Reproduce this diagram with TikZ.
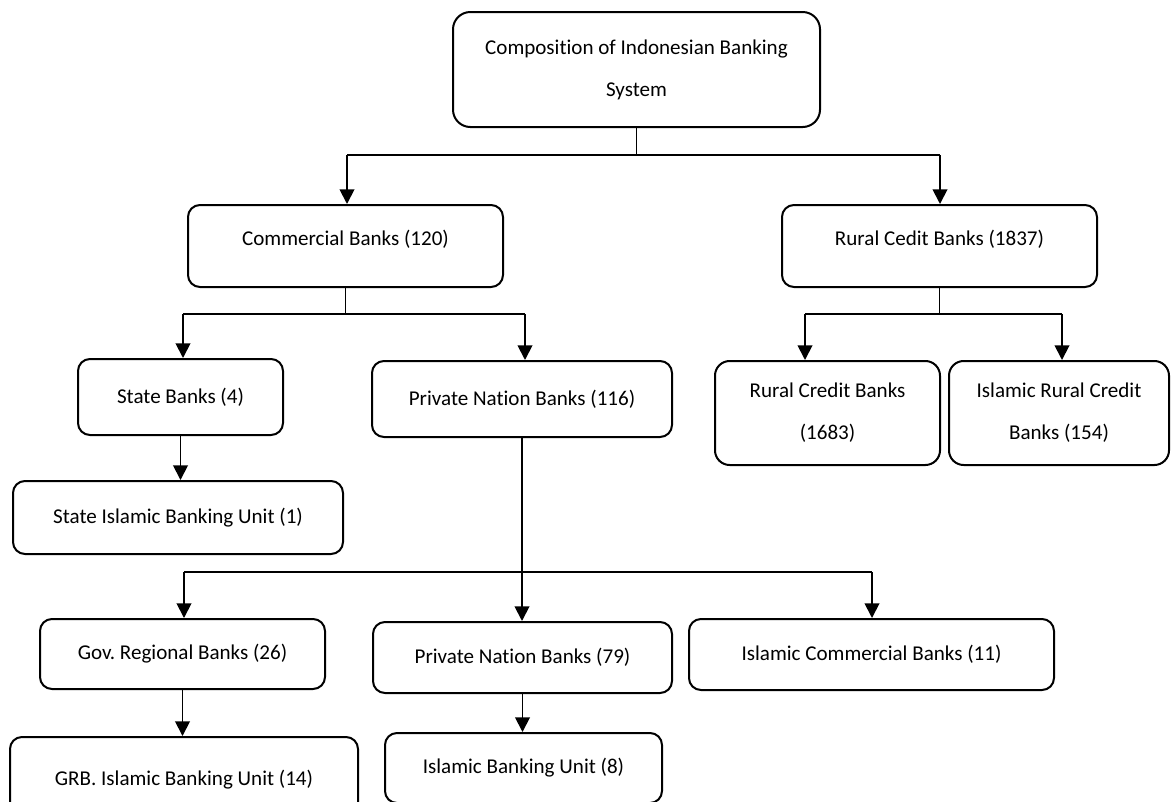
\documentclass[tikz,border=0pt]{standalone}
\usepackage{fontspec}
\setmainfont{Carlito}[Ligatures={NoCommon}]
\usetikzlibrary{arrows.meta}
\frenchspacing
\begin{document}
\begin{tikzpicture}[x=0.75pt,y=-0.75pt,
  box/.style={draw,line width=1.5pt,rounded corners=9pt,inner sep=0pt,
    font=\fontsize{15.8}{19}\selectfont,align=center},
  two/.style={font=\fontsize{15.8}{31.5}\selectfont},
  conn/.style={line width=1.4pt},
  arr/.style={conn,-{Triangle[width=11pt,length=11pt]}},
]
\useasboundingbox (0,0) rectangle (1171,801);
\clip (0,0) rectangle (1171,801);

% boxes
\node[box,two,rounded corners=13pt,minimum width=275.25pt,minimum height=86.25pt] (top) at (636.5,69.5)
  {Composition of Indonesian Banking\\System};
\node[box,minimum width=236.25pt,minimum height=61.5pt,text height=8pt,text depth=8.4pt] (cb) at (345.5,246) {Commercial Banks (120)};
\node[box,minimum width=236.25pt,minimum height=61.5pt,text height=8pt,text depth=8.4pt] (rcb) at (939.5,246) {Rural Cedit Banks (1837)};
\node[box,minimum width=153.75pt,minimum height=57pt] (sb) at (180.5,397) {State Banks (4)};
\node[box,minimum width=225pt,minimum height=57pt] (pnb) at (522,399) {Private Nation Banks (116)};
\node[box,minimum width=247.5pt,minimum height=54.75pt] (sibu) at (178,517.5) {State Islamic Banking Unit (1)};
\node[box,two,rounded corners=11pt,minimum width=168.75pt,minimum height=78pt] (rcb1) at (827.5,413) {Rural Credit Banks\\(1683)};
\node[box,two,rounded corners=11pt,minimum width=165pt,minimum height=78pt] (ircb) at (1059,413) {Islamic Rural Credit\\Banks (154)};
\node[box,minimum width=213.75pt,minimum height=52.5pt] (grb) at (182.5,654) {Gov. Regional Banks (26)};
\node[box,minimum width=224.25pt,minimum height=53.25pt] (pnb2) at (522.5,657.5) {Private Nation Banks (79)};
\node[box,minimum width=273.75pt,minimum height=53.25pt] (icb) at (871.5,654.5) {Islamic Commercial Banks (11)};
\node[box,minimum width=261pt,minimum height=64.5pt] (gibu) at (184,780) {GRB. Islamic Banking Unit (14)};
\node[box,minimum width=207.75pt,minimum height=52.5pt] (ibu) at (523.5,768) {Islamic Banking Unit (8)};

% level 1
\coordinate (h1L) at (347,155);
\coordinate (h1R) at (940,155);
\draw[conn] (top.south) -- (top.south |- h1L);
\draw[conn] (h1L) -- (h1R);
\draw[arr] (h1L) -- (h1L |- cb.north);
\draw[arr] (h1R) -- (h1R |- rcb.north);

% commercial banks
\coordinate (h2L) at (183,314);
\coordinate (h2R) at (525,314);
\draw[conn] (cb.south) -- (cb.south |- h2L);
\draw[conn] (h2L) -- (h2R);
\draw[arr] (h2L) -- (h2L |- sb.north);
\draw[arr] (h2R) -- (h2R |- pnb.north);

% rural banks
\coordinate (h3L) at (805,314);
\coordinate (h3R) at (1062,314);
\draw[conn] (rcb.south) -- (rcb.south |- h3L);
\draw[conn] (h3L) -- (h3R);
\draw[arr] (h3L) -- (h3L |- rcb1.north);
\draw[arr] (h3R) -- (h3R |- ircb.north);

% state banks
\draw[arr] (sb.south) -- (sb.south |- sibu.north);

% private nation banks
\coordinate (h4L) at (184,572);
\coordinate (h4R) at (872,572);
\draw[arr] (pnb.south) -- (pnb.south |- pnb2.north);
\draw[conn] (h4L) -- (h4R);
\draw[arr] (h4L) -- (h4L |- grb.north);
\draw[arr] (h4R) -- (h4R |- icb.north);

% last level
\draw[arr] (grb.south) -- (grb.south |- gibu.north);
\draw[arr] (pnb2.south) -- (pnb2.south |- ibu.north);
\end{tikzpicture}
\end{document}
